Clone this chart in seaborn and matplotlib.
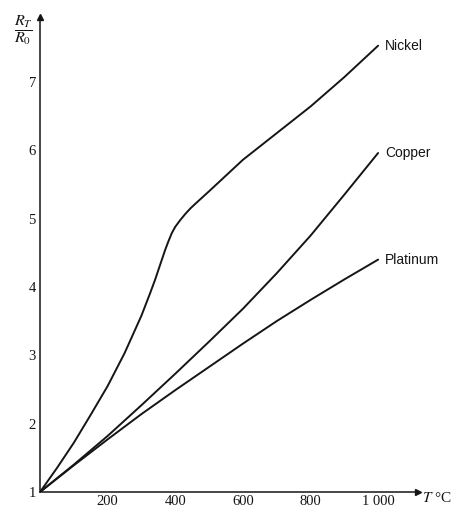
import matplotlib
matplotlib.use("Agg")
import matplotlib.pyplot as plt
import pandas as pd
import seaborn as sns

# Resistance ratio R_T / R_0 against temperature for three metals
temp_nickel = [0, 50, 100, 150, 200, 250, 300, 325, 340, 355, 370, 380, 390,
               400, 415, 430, 445, 460, 500, 600, 700, 800, 900, 1000]
ratio_nickel = [1.00, 1.35, 1.72, 2.13, 2.55, 3.03, 3.58, 3.90, 4.10, 4.32,
                4.54, 4.67, 4.79, 4.88, 4.98, 5.07, 5.15, 5.22, 5.40, 5.86,
                6.25, 6.64, 7.07, 7.53]

temp_copper = [0, 100, 200, 300, 400, 500, 600, 700, 800, 900, 1000]
ratio_copper = [1.00, 1.40, 1.82, 2.27, 2.73, 3.20, 3.68, 4.20, 4.75, 5.35, 5.96]

temp_platinum = [0, 100, 200, 300, 400, 500, 600, 700, 800, 900, 1000]
ratio_platinum = [1.00, 1.39, 1.77, 2.14, 2.49, 2.83, 3.17, 3.50, 3.81, 4.11, 4.40]

metals = ["Nickel", "Copper", "Platinum"]
x_ticks = [200, 400, 600, 800, 1000]
x_tick_labels = ["200", "400", "600", "800", "1 000"]
y_ticks = [1, 2, 3, 4, 5, 6, 7]
y_tick_labels = ["1", "2", "3", "4", "5", "6", "7"]

df = pd.concat([
    pd.DataFrame({"T": temp_nickel, "R": ratio_nickel, "metal": "Nickel"}),
    pd.DataFrame({"T": temp_copper, "R": ratio_copper, "metal": "Copper"}),
    pd.DataFrame({"T": temp_platinum, "R": ratio_platinum, "metal": "Platinum"}),
], ignore_index=True)

sns.set_theme(style="white")
plt.rcParams["font.family"] = ["Liberation Serif", "DejaVu Serif"]
plt.rcParams["mathtext.fontset"] = "stix"

ink = "#151515"
W, H = 451, 508
fig = plt.figure(figsize=(W / 100, H / 100), dpi=100)
fig.patch.set_facecolor("white")
ax = fig.add_axes([40 / W, 16 / H, 378 / W, 475 / H])
ax.set_facecolor("white")

sns.lineplot(data=df, x="T", y="R", hue="metal", hue_order=metals,
             palette={m: ink for m in metals}, estimator=None, legend=False,
             linewidth=1.4, ax=ax)

ax.set_xlim(0, 1118)
ax.set_ylim(1, 7.95)

for side in ["top", "right"]:
    ax.spines[side].set_visible(False)
for side in ["left", "bottom"]:
    ax.spines[side].set_color(ink)
    ax.spines[side].set_linewidth(1.1)

# arrowheads on the axes
ax.plot(1, 0, marker=">", color=ink, markersize=5, transform=ax.transAxes,
        clip_on=False)
ax.plot(0, 1, marker="^", color=ink, markersize=5, transform=ax.transAxes,
        clip_on=False)

ax.set_xticks(x_ticks)
ax.set_xticklabels(x_tick_labels)
ax.set_yticks(y_ticks)
ax.set_yticklabels(y_tick_labels)
ax.tick_params(axis="both", direction="in", length=3.5, width=1.0,
               color=ink, labelcolor=ink, labelsize=10.5)
ax.tick_params(axis="x", pad=2)
ax.tick_params(axis="y", pad=3)
ax.set_xlabel("")
ax.set_ylabel("")
ax.grid(False)

# curve names at the right-hand ends
ends = {"Nickel": ratio_nickel[-1], "Copper": ratio_copper[-1],
        "Platinum": ratio_platinum[-1]}
for name in metals:
    ax.annotate(name, xy=(1000, ends[name]), xytext=(5, 0),
                textcoords="offset points", ha="left", va="center",
                fontsize=10, color=ink, family=["Liberation Sans"])

# axis titles
fig.text(422 / W, 1 - 498 / H, "$T$ °C", ha="left", va="center",
         fontsize=11, color=ink)
fig.text(24 / W, 1 - 30 / H, r"$\dfrac{R_T}{R_0}$", ha="center", va="center",
         fontsize=11.5, color=ink)

fig.savefig("out.png", dpi=100, facecolor="white")
